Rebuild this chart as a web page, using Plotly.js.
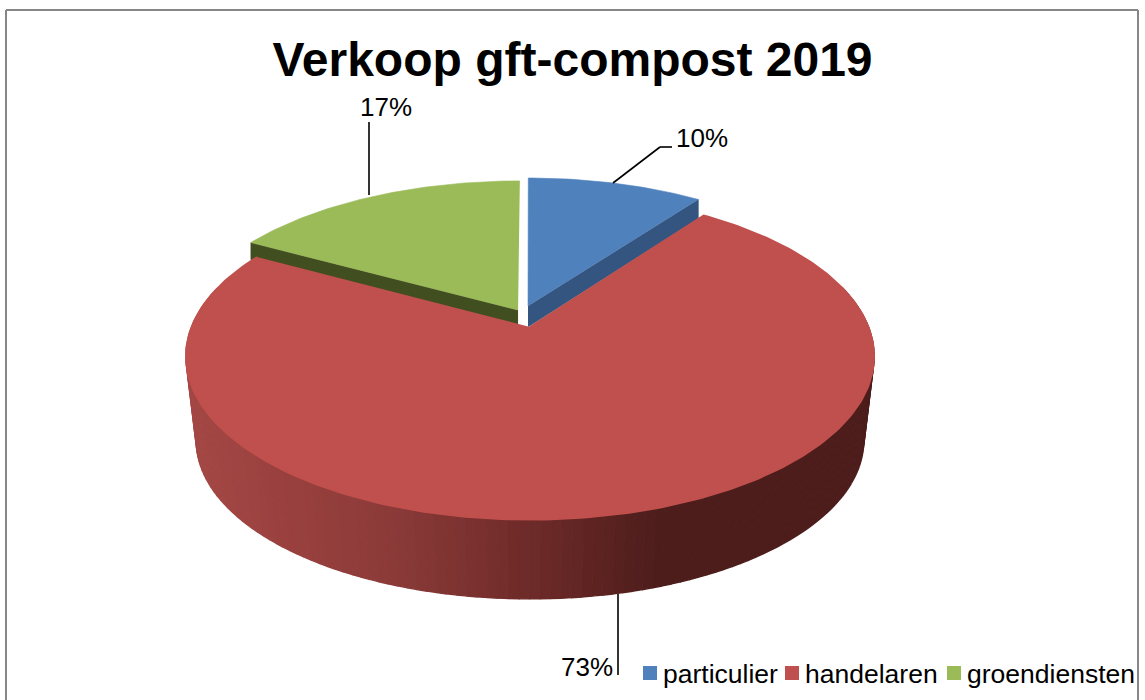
<!DOCTYPE html>
<html>
<head>
<meta charset="utf-8">
<script src="https://cdn.plot.ly/plotly-3.0.1.min.js"></script>
<style>html,body{margin:0;padding:0;background:#fff}#chart{width:1145px;height:700px}</style>
</head>
<body>
<div id="chart"></div>
<script>
// Data
var chartTitle = 'Verkoop gft-compost 2019';
var categories = ['particulier', 'handelaren', 'groendiensten'];
var shares = [10, 73, 17];
var sliceColors = ['#4F81BD', '#C0504D', '#9BBB59'];
var cutColors = ['#34557F', '#000000', '#404E20'];

// Perspective model of the pie disc
var FONT = '"Liberation Sans", Arial, sans-serif';
var apexX = 530, apexY = 327, radiusX = 338.5, radiusY = 158, persp = 0.18;
var offsets = [[-0.006, 0.1358], [0, 0], [-0.036, 0.1094]];
var cutDepth = [[21, 19], null, [15, 17]];
var lowerApexY = 412, lowerScale = 0.97;
var legendTextStarts = [663, 805, 967];

function top3d(deg, off, radius) {
  var t = deg * Math.PI / 180, r = radius === undefined ? 1 : radius;
  var px = off[0] + r * Math.sin(t), py = off[1] + r * Math.cos(t);
  var w = 1 / (1 + persp * py);
  return [apexX + radiusX * px * w, apexY - radiusY * py * w];
}
function lower3d(deg) {
  var p = top3d(deg, [0, 0]);
  return [apexX + (p[0] - apexX) * lowerScale, lowerApexY + (p[1] - apexY) * lowerScale];
}
function sideColor(x) {
  var stops = [[190, [165, 72, 69]], [300, [152, 64, 62]], [400, [138, 58, 56]], [500, [117, 46, 44]], [600, [92, 35, 33]], [655, [77, 29, 28]], [900, [77, 29, 28]]];
  for (var i = 1; i < stops.length; i++) {
    if (x <= stops[i][0]) {
      var a = stops[i - 1], b = stops[i], f = Math.max(0, (x - a[0]) / (b[0] - a[0]));
      return 'rgb(' + [0, 1, 2].map(function (c) { return Math.round(a[1][c] + (b[1][c] - a[1][c]) * f); }).join(',') + ')';
    }
  }
  return 'rgb(77,29,28)';
}
function poly(pts, color, name, w) {
  return {
    type: 'scatter', mode: 'lines', x: pts.map(function (p) { return p[0]; }), y: pts.map(function (p) { return p[1]; }),
    fill: 'toself', fillcolor: color, line: { color: color, width: w === undefined ? 0.6 : w }, showlegend: false, hoverinfo: name ? 'name' : 'skip', name: name || ''
  };
}

// Slice angles from the shares (clockwise from the top)
var total = shares.reduce(function (a, b) { return a + b; }, 0);
var angles = [], acc = 0;
shares.forEach(function (s) { angles.push([acc / total * 360, (acc + s) / total * 360]); acc += s; });

var traces = [];
// Side wall of the large slice; only the part in front of the rim is visible
var redA = angles[1], step = 1.5, strips = [];
for (var d = Math.max(redA[0], 75); d < Math.min(redA[1], 285); d += step) {
  var e = d + step;
  var pts = [top3d(d, offsets[1]), top3d(e, offsets[1]), lower3d(e), lower3d(d)];
  strips.push({ y: (pts[0][1] + pts[1][1]) / 2, pts: pts });
}
strips.sort(function (a, b) { return a.y - b.y; });
strips.forEach(function (s) {
  traces.push(poly(s.pts, sideColor((s.pts[2][0] + s.pts[3][0]) / 2), null, 1.4));
});
// Cut faces of the two pulled-out slices
function cutFace(i, deg) {
  var a = top3d(0, offsets[i], 0), b = top3d(deg, offsets[i]);
  return poly([a, b, [b[0], b[1] + cutDepth[i][1]], [a[0], a[1] + cutDepth[i][0]]], cutColors[i]);
}
traces.push(cutFace(0, angles[0][1]));
traces.push(cutFace(2, angles[2][0]));
// Top faces (the large one has a rim stroke that hides the wall's joins)
[1, 2, 0].forEach(function (i) {
  var pts = [top3d(0, offsets[i], 0)];
  for (var d = angles[i][0]; d <= angles[i][1] + 1e-6; d += 1) pts.push(top3d(d, offsets[i]));
  pts.push(top3d(angles[i][1], offsets[i]));
  traces.push(poly(pts, sliceColors[i], categories[i], i === 1 ? 1.8 : 0.6));
});
// Legend keys
categories.forEach(function (c, i) {
  traces.push({
    type: 'scatter', mode: 'markers', x: [null], y: [null], name: c, showlegend: true,
    marker: { symbol: 'square', size: 14, color: sliceColors[i], line: { width: 0 } }, hoverinfo: 'skip'
  });
});

function seg(x0, y0, x1, y1) {
  return { type: 'line', xref: 'x', yref: 'y', x0: x0, y0: y0, x1: x1, y1: y1, line: { color: '#000', width: 1.6 } };
}
function frame(x0, y0, x1, y1) {
  return { type: 'line', xref: 'x', yref: 'y', x0: x0, y0: y0, x1: x1, y1: y1, line: { color: '#868686', width: 2 } };
}
var shapes = [
  frame(6, 10, 1138, 10), frame(6, 10, 6, 700), frame(1138, 10, 1138, 700),
  seg(613, 183, 660, 147), seg(660, 147, 672, 147), seg(369, 195, 369, 122), seg(618, 594, 618, 675)
];
function pct(i, x, y) {
  return { xref: 'x', yref: 'y', x: x, y: y, xanchor: 'left', yanchor: 'middle', text: shares[i] + '%', showarrow: false,
    font: { family: FONT, size: 26, color: '#000' } };
}
var layout = {
  width: 1145, height: 700, margin: { l: 0, r: 0, t: 0, b: 0 }, paper_bgcolor: '#fff', plot_bgcolor: '#fff',
  title: { text: '<b>' + chartTitle + '</b>', x: 0.5, xanchor: 'center', y: 0.916, yanchor: 'middle', xref: 'paper', yref: 'container',
    font: { family: FONT, size: 48, color: '#000' } },
  xaxis: { range: [0, 1145], visible: false, fixedrange: true },
  yaxis: { range: [700, 0], visible: false, fixedrange: true },
  shapes: shapes,
  annotations: [pct(0, 674, 138), pct(1, 559, 667), pct(2, 358, 107)],
  hovermode: false, dragmode: false,
  showlegend: true,
  legend: { orientation: 'h', x: 1, xanchor: 'right', y: 0.004, yanchor: 'bottom', bgcolor: 'rgba(0,0,0,0)', borderwidth: 0,
    font: { family: FONT, size: 26.5, color: '#000' }, traceorder: 'normal', itemclick: false, itemdoubleclick: false, itemwidth: 30,
    tracegroupgap: 0 }
};
Plotly.newPlot('chart', traces, layout, { displayModeBar: false }).then(function () {
  // place each legend key and label at the reference spacing
  var legend = document.querySelector('#chart .legend');
  var legendX = parseFloat(legend.getAttribute('transform').match(/translate\(([-\d.]+)/)[1]);
  legend.querySelectorAll('.traces').forEach(function (g, i) {
    var m = g.getAttribute('transform').match(/translate\(([-\d.]+)[ ,]+([-\d.]+)/);
    g.setAttribute('transform', 'translate(' + (legendTextStarts[i] - 40 - legendX) + ',' + m[2] + ')');
    g.querySelector('.legendpoints').setAttribute('transform', 'translate(7,0)');
  });
});
</script>
</body>
</html>
